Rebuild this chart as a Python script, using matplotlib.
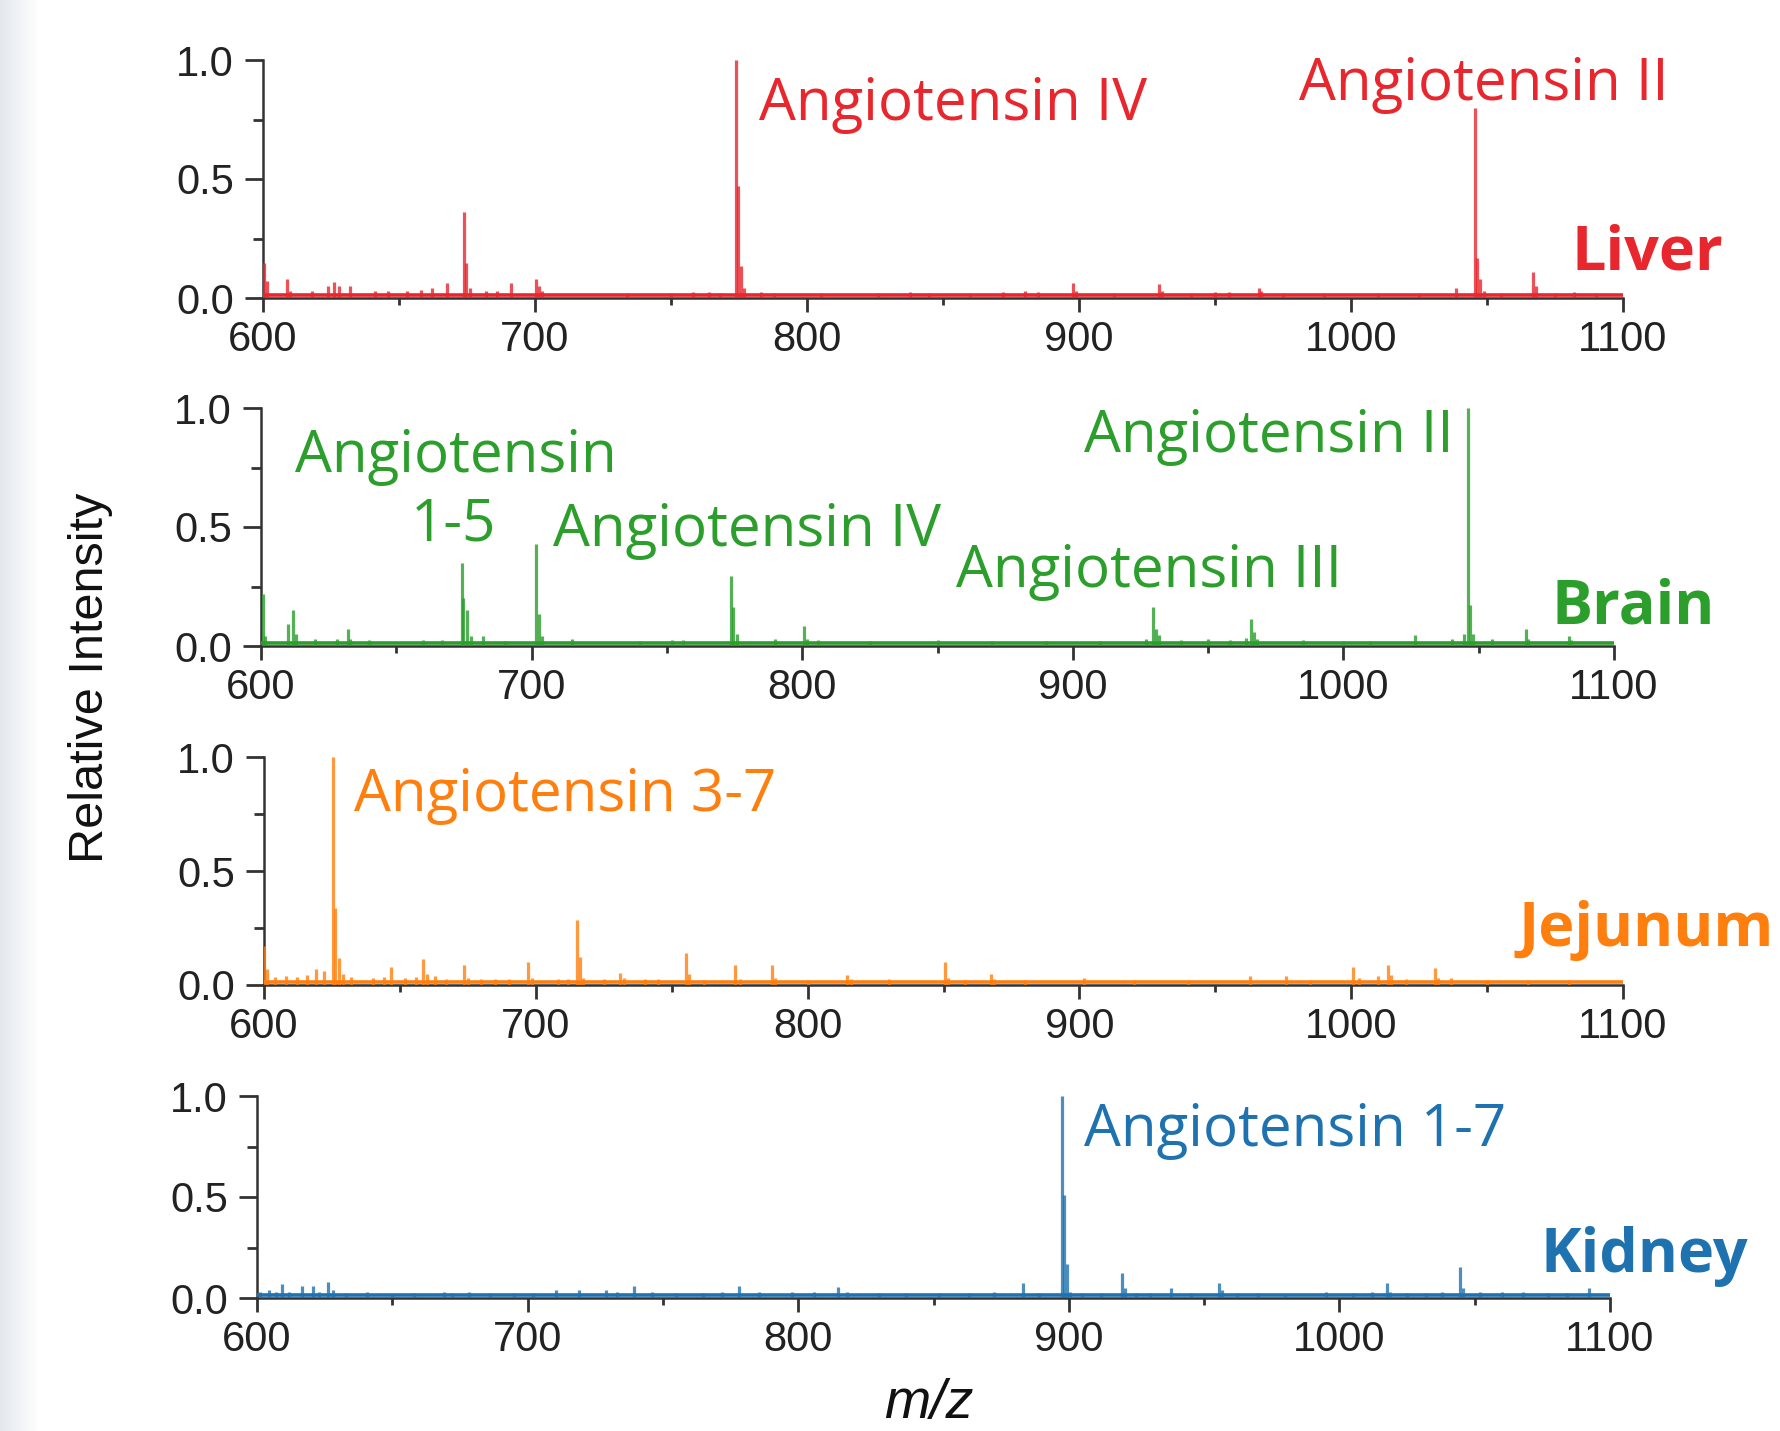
import numpy as np
import matplotlib
matplotlib.use("Agg")
import matplotlib.pyplot as plt
from matplotlib.ticker import MultipleLocator, FormatStrFormatter

# ---------------- data ----------------
tissues = ["Liver", "Brain", "Jejunum", "Kidney"]
colors = ["#e8262d", "#2b9e2b", "#ff7f0e", "#1f72b0"]

liver_mz = [600.5, 601.5, 609, 610, 618, 624, 626, 628, 632, 641, 646, 653, 658, 662, 667.7,
            673.8, 674.8, 676, 682, 686, 691, 700.3, 701.3, 702.5, 734, 750, 758, 764, 768,
            773.9, 774.8, 775.8, 777, 783, 788, 805, 826, 838, 845, 860, 872, 880, 885,
            897.7, 899, 913, 929.5, 930.5, 941, 950, 955, 966, 967, 975, 990, 1010, 1025,
            1038.5, 1045.6, 1046.5, 1047.5, 1049, 1055, 1067, 1068, 1075, 1082, 1090]
liver_int = [0.147, 0.07, 0.08, 0.03, 0.03, 0.05, 0.066, 0.05, 0.05, 0.03, 0.03, 0.03, 0.035, 0.04, 0.063,
             0.36, 0.147, 0.04, 0.03, 0.03, 0.063, 0.08, 0.05, 0.03, 0.02, 0.02, 0.025, 0.025, 0.02,
             1.0, 0.47, 0.133, 0.04, 0.025, 0.02, 0.02, 0.02, 0.025, 0.02, 0.02, 0.025, 0.03, 0.025,
             0.063, 0.03, 0.02, 0.06, 0.03, 0.02, 0.025, 0.025, 0.04, 0.03, 0.02, 0.02, 0.02, 0.02,
             0.04, 0.797, 0.168, 0.08, 0.03, 0.02, 0.108, 0.05, 0.02, 0.025, 0.02]

brain_mz = [600.7, 601.5, 609.9, 612, 613, 620, 628, 632, 633, 640, 660, 667, 674.1, 674.8, 676.3,
            677.5, 682, 690, 701.5, 702.6, 704, 715, 740, 752, 756, 773.8, 774.6, 775.8, 790,
            800.7, 801.7, 806, 825, 850, 870, 890, 910, 927, 929.7, 930.8, 932, 940, 950, 958,
            964, 966, 967, 968, 985, 1000, 1010, 1026.5, 1040, 1044.5, 1045.9, 1046.8, 1047.8,
            1055, 1067.4, 1068.4, 1083.2, 1084]
brain_int = [0.22, 0.04, 0.094, 0.153, 0.05, 0.03, 0.03, 0.07, 0.03, 0.025, 0.025, 0.025, 0.35, 0.2, 0.153,
             0.04, 0.04, 0.02, 0.43, 0.136, 0.04, 0.03, 0.02, 0.025, 0.025, 0.295, 0.165, 0.05, 0.03,
             0.084, 0.03, 0.025, 0.02, 0.025, 0.02, 0.02, 0.02, 0.03, 0.164, 0.07, 0.045, 0.025, 0.03, 0.025,
             0.035, 0.115, 0.06, 0.03, 0.025, 0.02, 0.02, 0.045, 0.03, 0.05, 1.0, 0.171, 0.05,
             0.03, 0.07, 0.03, 0.04, 0.025]

jejunum_mz = [600.1, 601, 604, 608, 612, 616, 619, 622, 625.5, 626.3, 627.5, 629, 632, 640, 644, 646.6,
              652, 656, 658.6, 660, 663, 667, 673.4, 675, 680, 685, 690, 697.3, 698.5, 708, 712,
              715.2, 716.1, 717.2, 725, 731, 732.5, 740, 745, 755.4, 756.5, 762, 773.4, 775, 787,
              788, 800, 814.5, 816, 830, 850.4, 851.5, 858, 867.3, 868.5, 880, 901.6, 920, 940,
              962.6, 976, 985, 1000.5, 1003, 1010, 1013.4, 1014.5, 1020, 1031, 1032, 1036.8,
              1050, 1065, 1080]
jejunum_int = [0.17, 0.07, 0.035, 0.04, 0.035, 0.045, 0.07, 0.06, 1.0, 0.336, 0.12, 0.05, 0.035, 0.03, 0.035, 0.077,
               0.03, 0.035, 0.112, 0.05, 0.04, 0.025, 0.088, 0.03, 0.025, 0.025, 0.025, 0.10, 0.03, 0.025, 0.025,
               0.285, 0.124, 0.03, 0.025, 0.054, 0.03, 0.025, 0.025, 0.139, 0.05, 0.02, 0.088, 0.025, 0.088,
               0.03, 0.02, 0.044, 0.025, 0.025, 0.10, 0.03, 0.02, 0.047, 0.025, 0.02, 0.03, 0.02, 0.02,
               0.04, 0.04, 0.02, 0.077, 0.03, 0.04, 0.088, 0.044, 0.025, 0.073, 0.03, 0.03,
               0.02, 0.02, 0.02]

kidney_mz = [601, 604.3, 607, 609.4, 612, 616.5, 620.7, 623, 626.3, 628, 633, 640.6, 650, 658, 669, 672,
             678.5, 686, 695, 702, 710.4, 718.9, 729, 733, 739.5, 746, 755, 765, 772, 778, 785.5,
             797.7, 806, 814.6, 818, 830, 840, 852, 863, 872.3, 883, 889, 897.6, 898.4, 899.2, 900.5,
             905, 912, 919.8, 920.8, 925, 930, 937.8, 945, 955.6, 956.6, 962, 970, 980, 994.9,
             1005, 1012, 1017.7, 1018.7, 1025, 1032, 1038, 1044.7, 1045.7, 1052, 1060, 1068,
             1077, 1084, 1092.4]
kidney_int = [0.03, 0.04, 0.03, 0.07, 0.03, 0.058, 0.058, 0.03, 0.077, 0.04, 0.025, 0.03, 0.02, 0.025, 0.03, 0.025,
              0.03, 0.025, 0.025, 0.025, 0.04, 0.04, 0.04, 0.03, 0.058, 0.03, 0.025, 0.025, 0.03, 0.058, 0.03,
              0.03, 0.03, 0.055, 0.03, 0.025, 0.025, 0.025, 0.025, 0.03, 0.074, 0.025, 1.0, 0.51, 0.17, 0.03,
              0.025, 0.025, 0.124, 0.05, 0.025, 0.025, 0.05, 0.025, 0.074, 0.04, 0.025, 0.025, 0.02, 0.03,
              0.025, 0.03, 0.074, 0.03, 0.025, 0.025, 0.03, 0.153, 0.05, 0.03, 0.03, 0.03,
              0.025, 0.025, 0.05]

baselines = [0.012, 0.012, 0.015, 0.015]

spectra_mz = [liver_mz, brain_mz, jejunum_mz, kidney_mz]
spectra_int = [liver_int, brain_int, jejunum_int, kidney_int]

# annotations: (text, mz, intensity) per panel
annotations = [
    [("Angiotensin IV", 782.3, 0.75), ("Angiotensin II", 980.9, 0.833)],
    [("Angiotensin", 612.6, 0.733), ("1-5", 655.4, 0.443), ("Angiotensin IV", 707.8, 0.419),
     ("Angiotensin III", 856.7, 0.248), ("Angiotensin II", 904.1, 0.814)],
    [("Angiotensin 3-7", 633.0, 0.765)],
    [("Angiotensin 1-7", 905.8, 0.751)],
]
tissue_label_pos = [(1081.2, 0.119), (1077.0, 0.095), (1061.6, 0.17), (1074.4, 0.13)]

x_ticks = [600, 700, 800, 900, 1000, 1100]
y_ticks = [0.0, 0.5, 1.0]

# ---------------- layout ----------------
W, H = 1780, 1431
fig = plt.figure(figsize=(W / 100, H / 100), dpi=100)
fig.patch.set_facecolor("white")

# light grey strip at the left edge
strip = fig.add_axes([0, 0, 40 / W, 1])
grad = np.linspace(0, 1, 64).reshape(1, -1)
strip.imshow(grad, aspect="auto", cmap=matplotlib.colors.LinearSegmentedColormap.from_list(
    "g", ["#e4e8ee", "#ffffff"]), extent=[0, 1, 0, 1])
strip.axis("off")

# axes boxes in pixels: left, right, top(1.0), bottom(0.0)
boxes = [(263, 1623, 60, 298), (261, 1614, 408, 646), (264, 1623, 757, 985), (257, 1610, 1096, 1298)]

tick_font = {"family": "Liberation Sans", "size": 30}
ann_family = ["Open Sans", "DejaVu Sans"]

for i, (l, r, t, b) in enumerate(boxes):
    ax = fig.add_axes([l / W, 1 - b / H, (r - l) / W, (b - t) / H])
    c = colors[i]
    mz = spectra_mz[i]
    inten = spectra_int[i]
    ax.hlines(baselines[i], 600, 1100, color=c, lw=2.6, zorder=3)
    ax.vlines(mz, 0, inten, color=c, lw=2.3, alpha=0.8, zorder=3)
    ax.set_xlim(600, 1100)
    ax.set_ylim(0, 1.0)
    for s in ["top", "right"]:
        ax.spines[s].set_visible(False)
    for s in ["left", "bottom"]:
        ax.spines[s].set_color("#333333")
        ax.spines[s].set_linewidth(1.8)
    ax.set_xticks(x_ticks)
    ax.set_yticks(y_ticks)
    ax.xaxis.set_minor_locator(MultipleLocator(50))
    ax.yaxis.set_minor_locator(MultipleLocator(0.25))
    ax.yaxis.set_major_formatter(FormatStrFormatter("%.1f"))
    ax.tick_params(axis="y", which="major", length=13, width=2, color="#333333", pad=8)
    ax.tick_params(axis="y", which="minor", length=7, width=2, color="#333333")
    ax.tick_params(axis="x", which="major", length=10, width=2, color="#333333", pad=6)
    ax.tick_params(axis="x", which="minor", length=5, width=2, color="#333333")
    for lab in ax.get_xticklabels() + ax.get_yticklabels():
        lab.set_fontfamily(tick_font["family"])
        lab.set_fontsize(tick_font["size"])
        lab.set_color("#222222")
    for txt, x, y in annotations[i]:
        ax.text(x, y, txt, color=c, fontsize=42, family=ann_family, va="baseline", ha="left",
                clip_on=False)
    tx, ty = tissue_label_pos[i]
    ax.text(tx, ty, tissues[i], color=c, fontsize=44, fontweight="bold", family=ann_family,
            va="baseline", ha="left", clip_on=False)

fig.text(91 / W, 1 - 678 / H, "Relative Intensity", rotation=90, ha="center", va="center",
         family="Liberation Sans", fontsize=35, color="#111111")
fig.text(929 / W, 1 - 1404 / H, "m/z", ha="center", va="center", family="Liberation Sans",
         style="italic", fontsize=40, color="#111111")

fig.savefig("out.png", dpi=100)
